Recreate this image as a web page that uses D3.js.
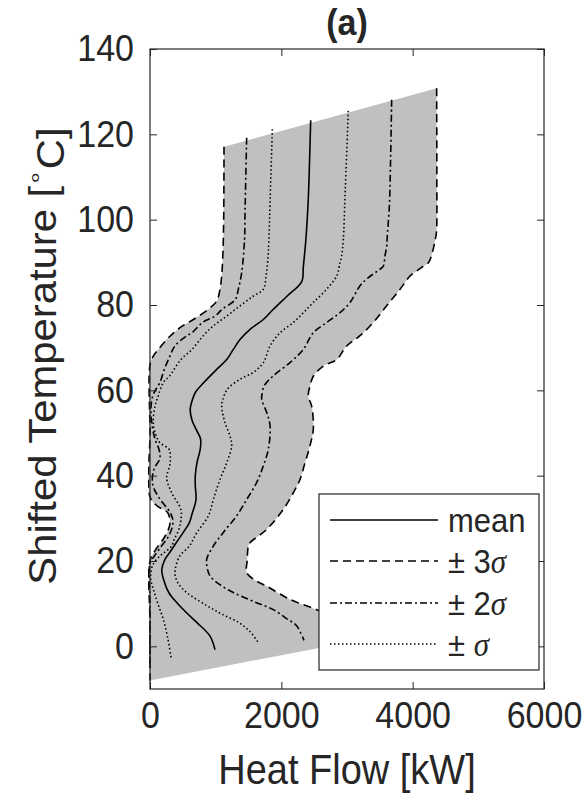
<!DOCTYPE html>
<html><head><meta charset="utf-8">
<script src="https://cdn.jsdelivr.net/npm/d3@7"></script>
<style>body{margin:0;background:#fff} text{font-family:"Liberation Sans",Arial,sans-serif;fill:#262626}</style>
</head><body>
<script>
// ---- data: [temperature °C, heat flow kW] ----
const xTicks=[0,2000,4000,6000];
const yTicks=[0,20,40,60,80,100,120,140];
const legendLabels=["mean","± 3","± 2","± "];

const meanCurve=[[123.3,2447],[115,2432],[105,2411],[95,2372],[89,2335],[85.5,2310],[82,2082],[79,1878],[76.6,1726],[74.3,1523],[71.9,1371],[69.6,1269],[67.2,1168],[64.9,1015],[61.7,812],[59.5,690],[57.5,640],[55.6,612],[53,640],[50.9,700],[48.6,770],[46.2,765],[43,715],[40,690],[37.6,690],[34.4,700],[31,640],[29,600],[27,520],[24.3,400],[22,300],[20.4,228],[18,180],[15.5,210],[12.5,290],[10.2,410],[7.8,560],[5.5,720],[2.4,914],[-0.8,990]];
const plus1Curve=[[125.5,3020],[105.5,2970],[95.4,2944],[91.5,2919],[89.9,2893],[86.8,2843],[83.7,2690],[80.6,2487],[78.2,2335],[75.9,2183],[73.5,1980],[70.4,1828],[66.5,1726],[64.2,1574],[62.6,1371],[60.3,1180],[57.9,1110],[56.3,1091],[52.4,1142],[49.3,1218],[47,1244],[43,1168],[39.1,1066],[34.4,964],[30.6,890],[26.6,711],[23.5,600],[21.1,450],[18.1,385],[16.5,385],[14.5,440],[12.6,560],[9.5,870],[7.5,1100],[5.6,1350],[3.5,1520],[1.1,1640]];
const plus2Curve=[[128.1,3680],[115,3665],[103.2,3645],[95.4,3610],[93.8,3605],[91.5,3578],[89.1,3553],[88.4,3503],[86.1,3300],[84.5,3198],[80.6,3046],[78.2,2893],[75.9,2690],[73.5,2487],[69.6,2335],[66.5,2132],[63.4,1878],[61.1,1740],[59,1705],[57.9,1701],[54.8,1777],[51.7,1828],[46.2,1802],[42.3,1726],[38.4,1624],[34.4,1472],[30.6,1320],[26.7,1117],[23.5,964],[20.4,863],[18.5,870],[16.5,914],[14.5,1060],[12.6,1269],[10.5,1580],[8.6,1878],[6.5,2080],[4.8,2233],[1.4,2345]];
const plus3Curve=[[130.8,4365],[110,4368],[97,4362],[95.4,4345],[92.3,4300],[89.9,4240],[89.1,4162],[88.4,4100],[86.8,3960],[83.7,3808],[79.8,3604],[75.9,3401],[72.8,3198],[70.4,2995],[67.2,2843],[65.7,2640],[63.3,2487],[61,2436],[58.7,2411],[56.3,2462],[50.9,2487],[47,2436],[43,2360],[39.1,2284],[36,2183],[32.1,2030],[27.4,1777],[24.3,1523],[23.5,1497],[20,1480],[17.3,1472],[15.5,1600],[14.1,1777],[11,2132],[8.6,2538],[6,2950],[2.5,3550]];
const minus1Curve=[[121.2,1863],[105,1830],[95,1810],[90.7,1795],[86.8,1767],[83.7,1726],[82.1,1574],[79.8,1371],[77.4,1168],[75.1,964],[72.8,812],[69.6,640],[67.2,470],[63.4,300],[61.8,203],[58,110],[56.3,76],[52.4,50],[49.5,90],[47.7,152],[46.2,290],[44,310],[42.3,300],[39.5,254],[36,330],[32.1,470],[29.5,470],[27.4,440],[25.1,370],[23.5,330],[22,220],[21.2,152],[19,40],[16,10],[13.4,50],[10,120],[6.3,203],[2,270],[-2.6,320]];
const minus2Curve=[[119.2,1472],[101.5,1447],[95.4,1440],[87.6,1396],[83.7,1345],[81.3,1300],[79,1100],[77.4,990],[75.9,800],[73.5,640],[72.8,560],[70.4,380],[67.9,300],[65,220],[61.8,150],[60,80],[58.6,40],[56,15],[52,30],[48.6,76],[46,140],[44,150],[41.5,60],[38,40],[35,130],[31,320],[29,350],[26,290],[23,150],[21,60],[19.5,0],[10,0],[-5,0]];
const minus3Curve=[[117.1,1127],[100,1122],[92,1110],[86.8,1091],[83.7,1066],[80.9,1015],[79,888],[76.6,660],[74.7,457],[72.3,279],[69.6,127],[68,50],[66,0],[50,0],[35,0],[33,100],[31.3,270],[29,305],[27,270],[25.1,200],[22.5,80],[20,0],[5,0],[-8,0]];

// ---- layout ----
const W=585,H=800, L=150,R=544,T=49,B=689, SY=1.1;
const x=d3.scaleLinear().domain([0,6000]).range([L,R]);
const y=d3.scaleLinear().domain([-10,140]).range([B,T]);
const svg=d3.select("body").append("svg").attr("width",W).attr("height",H);
svg.append("defs").append("clipPath").attr("id","clip").append("rect")
  .attr("x",L-2).attr("y",T).attr("width",R-L+2).attr("height",B-T);
const line=d3.line().x(d=>x(d[1])).y(d=>y(d[0])).curve(d3.curveCatmullRom.alpha(0.5));

const plot=svg.append("g").attr("clip-path","url(#clip)");
// shaded band between -3σ and +3σ
const fillPath=line(minus3Curve)+"L"+line(plus3Curve.slice().reverse()).slice(1)+"Z";
plot.append("path").attr("d",fillPath).attr("fill","#c0c0c0").attr("stroke","none");

// axes
const axCol="#262626";
function styleAxis(g){g.select(".domain").remove();g.selectAll(".tick line").attr("stroke",axCol).attr("stroke-width",1);}
svg.append("g").attr("transform",`translate(0,${B})`)
  .call(d3.axisBottom(x).tickValues(xTicks).tickSizeInner(-7).tickSizeOuter(0).tickPadding(11).tickFormat(d3.format("d")))
  .call(styleAxis).call(g=>g.selectAll("text").attr("font-size",34).attr("fill",axCol).attr("font-family","Liberation Sans, Arial").attr("transform",`scale(1,${SY})`));
svg.append("g").attr("transform",`translate(${L},0)`)
  .call(d3.axisLeft(y).tickValues(yTicks).tickSizeInner(-7).tickSizeOuter(0).tickPadding(16).tickFormat(d3.format("d")))
  .call(styleAxis).call(g=>g.selectAll("text").attr("font-size",34).attr("fill",axCol).attr("font-family","Liberation Sans, Arial").attr("transform",`scale(1,${SY})`));
svg.append("g").attr("transform",`translate(0,${T})`)
  .call(d3.axisTop(x).tickValues(xTicks).tickSizeInner(-7).tickSizeOuter(0).tickFormat(""))
  .call(styleAxis);
svg.append("g").attr("transform",`translate(${R},0)`)
  .call(d3.axisRight(y).tickValues(yTicks).tickSizeInner(-7).tickSizeOuter(0).tickFormat(""))
  .call(styleAxis);
svg.append("rect").attr("x",L).attr("y",T).attr("width",R-L).attr("height",B-T)
  .attr("fill","none").attr("stroke",axCol).attr("stroke-width",1.2);

// curves
const series=[
  {d:minus3Curve,dash:"8,5"},{d:plus3Curve,dash:"8,5"},
  {d:minus2Curve,dash:"7,3,2,3"},{d:plus2Curve,dash:"7,3,2,3"},
  {d:minus1Curve,dash:"1.5,2.5"},{d:plus1Curve,dash:"1.5,2.5"},
  {d:meanCurve,dash:null}];
series.forEach(s=>{
  plot.append("path").attr("d",line(s.d)).attr("fill","none").attr("stroke","#000")
    .attr("stroke-width",1.6).attr("stroke-dasharray",s.dash);
});

// title and labels
svg.append("text").attr("transform",`translate(347,35) scale(1,${SY})`).attr("text-anchor","middle")
  .attr("font-size",34).attr("font-weight","bold").attr("fill","#000").text("(a)");
svg.append("text").attr("transform",`translate(347,784) scale(1,${SY})`).attr("text-anchor","middle")
  .attr("font-size",38).text("Heat Flow [kW]");
const yl=svg.append("text").attr("transform",`translate(56,356) scale(1,${SY}) rotate(-90)`).attr("text-anchor","middle")
  .attr("font-size",38);
yl.append("tspan").text("Shifted Temperature [");
yl.append("tspan").attr("dy","-0.55em").attr("font-size","24").text("∘");
yl.append("tspan").attr("dy","0.55em").text("C]");

// legend
const lg=svg.append("g");
lg.append("rect").attr("x",319).attr("y",494).attr("width",220).attr("height",176)
  .attr("fill","#fff").attr("stroke",axCol).attr("stroke-width",1.2);
const legDash=[null,"8,5","7,3,2,3","1.5,2.5"];
const rowY=[520,561,603,644];
legendLabels.forEach((lab,i)=>{
  lg.append("line").attr("x1",330).attr("x2",438).attr("y1",rowY[i]).attr("y2",rowY[i])
    .attr("stroke","#000").attr("stroke-width",1.6).attr("stroke-dasharray",legDash[i]);
  const t=lg.append("text").attr("transform",`translate(448,${rowY[i]}) scale(1,${SY})`)
    .attr("dy","0.36em").attr("font-size",31).attr("fill","#000");
  t.append("tspan").text(lab);
  if(i>0) t.append("tspan").attr("font-family","Liberation Serif, Times New Roman").attr("font-style","italic").text("σ");
});
</script>
</body></html>
